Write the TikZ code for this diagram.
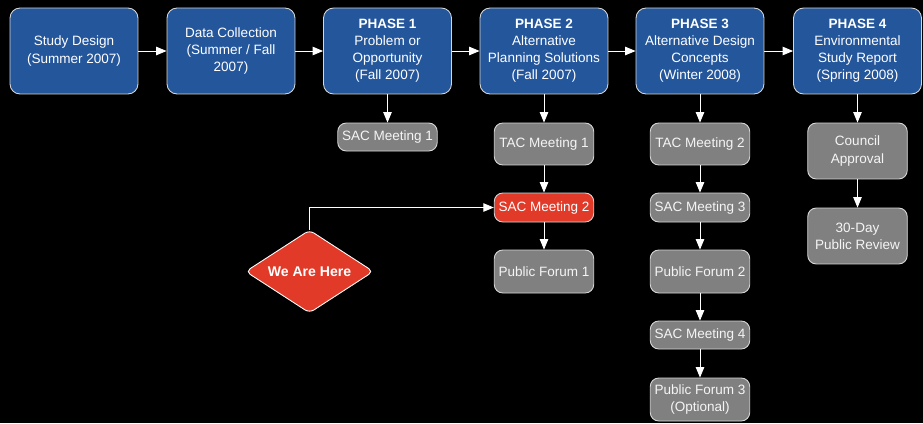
\documentclass[tikz,border=0pt]{standalone}
\usepackage{fontspec}
\setmainfont{Liberation Sans}
\usetikzlibrary{shapes.geometric,arrows.meta}
\definecolor{phaseblue}{RGB}{36,86,156}
\definecolor{meetgray}{RGB}{128,128,128}
\definecolor{herered}{RGB}{226,58,40}
\definecolor{edgegray}{RGB}{215,215,215}
\tikzset{
  phasebox/.style={draw=edgegray,fill=phaseblue,line width=0.5pt,rounded corners=0.2cm,
    minimum width=2.56cm,minimum height=1.72cm,inner sep=0pt,align=center,text=white},
  meetbox/.style={draw=edgegray,fill=meetgray,line width=0.5pt,rounded corners=0.17cm,
    minimum width=1.99cm,inner sep=0pt,align=center,text=white!92!gray},
  herebox/.style={diamond,draw=white,fill=herered,line width=0.5pt,rounded corners=3pt,
    minimum width=2.56cm,minimum height=1.66cm,inner sep=0pt,aspect=1.55,text=white,
    font=\fontsize{8}{9.7}\selectfont\bfseries},
  flow/.style={draw=white,line width=0.5pt,-{Triangle[length=0.21cm,width=0.17cm]}}
}
\begin{document}
\begin{tikzpicture}[x=0.02cm,y=-0.02cm,font=\fontsize{7.7}{9.7}\selectfont]
\useasboundingbox (0,0) rectangle (923,423);
\fill[black] (0,0) rectangle (923,423);
%
\node[phasebox] (design) at (74,51) {Study Design\\(Summer 2007)};
\node[phasebox] (collect) at (231,51) {Data Collection\\(Summer / Fall\\2007)};
\node[phasebox] (phaseA) at (387.5,51) {\textbf{PHASE 1}\\Problem or\\Opportunity\\(Fall 2007)};
\node[phasebox] (phaseB) at (544,51) {\textbf{PHASE 2}\\Alternative\\Planning Solutions\\(Fall 2007)};
\node[phasebox] (phaseC) at (700,51) {\textbf{PHASE 3}\\Alternative Design\\Concepts\\(Winter 2008)};
\node[phasebox] (phaseD) at (857.5,51) {\textbf{PHASE 4}\\Environmental\\Study Report\\(Spring 2008)};
%
\node[meetbox,minimum height=0.56cm] (sacA) at (387.5,137) {SAC Meeting 1};
%
\node[meetbox,minimum height=0.84cm] (tacA) at (544,144) {TAC Meeting 1};
\node[meetbox,minimum height=0.58cm,fill=herered,text=white] (sacB) at (544,207.5) {SAC Meeting 2};
\node[meetbox,minimum height=0.86cm] (forumA) at (544,271.5) {Public Forum 1};
%
\node[meetbox,minimum height=0.84cm] (tacB) at (700,144) {TAC Meeting 2};
\node[meetbox,minimum height=0.58cm] (sacC) at (700,207.5) {SAC Meeting 3};
\node[meetbox,minimum height=0.86cm] (forumB) at (700,271.5) {Public Forum 2};
\node[meetbox,minimum height=0.56cm] (sacD) at (700,335) {SAC Meeting 4};
\node[meetbox,minimum height=0.86cm] (forumC) at (700,399.5) {Public Forum 3\\(Optional)};
%
\node[meetbox,minimum height=1.12cm] (council) at (857.5,151) {Council\\Approval};
\node[meetbox,minimum height=1.12cm] (review) at (857.5,236) {30-Day\\Public Review};
%
\node[herebox] (here) at (309.5,271.5) {We Are Here};
%
\draw[flow] (design) -- (collect);
\draw[flow] (collect) -- (phaseA);
\draw[flow] (phaseA) -- (phaseB);
\draw[flow] (phaseB) -- (phaseC);
\draw[flow] (phaseC) -- (phaseD);
\draw[flow] (phaseA) -- (sacA);
\draw[flow] (phaseB) -- (tacA);
\draw[flow] (tacA) -- (sacB);
\draw[flow] (sacB) -- (forumA);
\draw[flow] (phaseC) -- (tacB);
\draw[flow] (tacB) -- (sacC);
\draw[flow] (sacC) -- (forumB);
\draw[flow] (forumB) -- (sacD);
\draw[flow] (sacD) -- (forumC);
\draw[flow] (phaseD) -- (council);
\draw[flow] (council) -- (review);
\draw[flow] (here.north) |- (sacB.west);
\end{tikzpicture}
\end{document}
